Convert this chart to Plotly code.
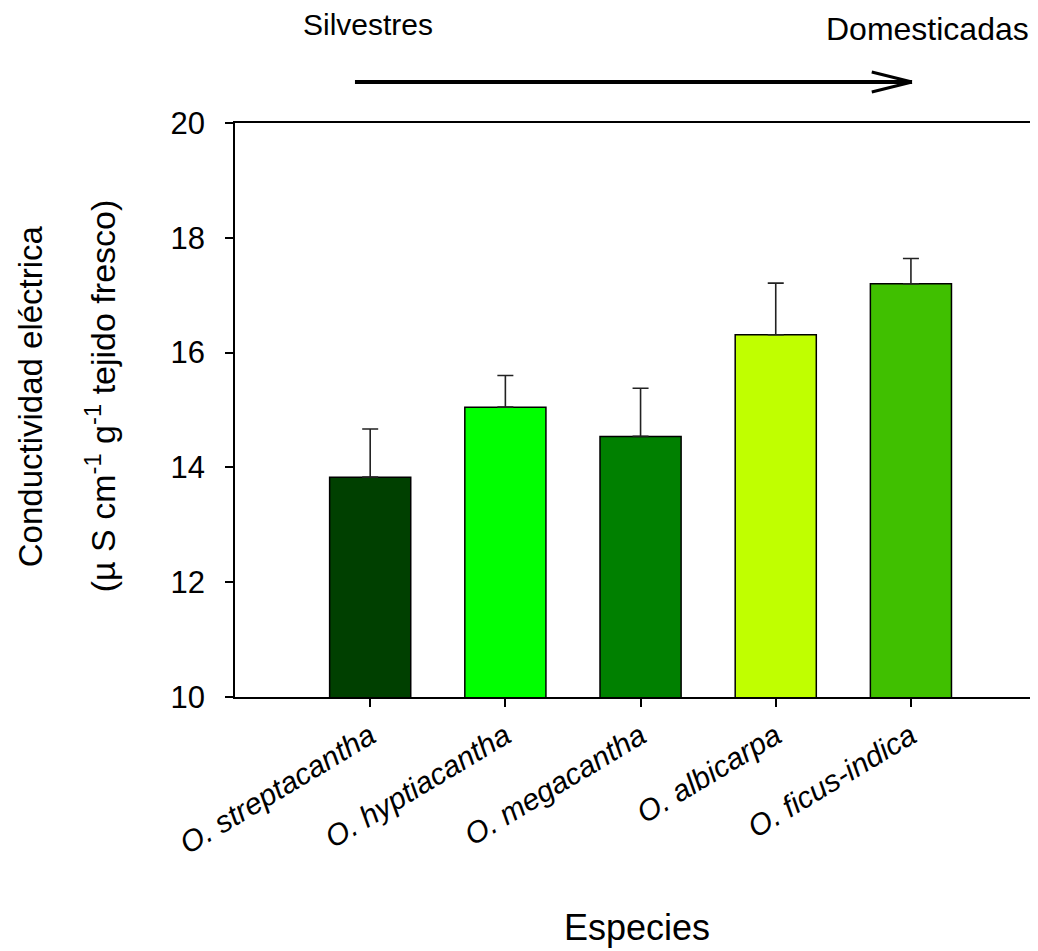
import plotly.graph_objects as go

species = ["O. streptacantha", "O. hyptiacantha", "O. megacantha", "O. albicarpa", "O. ficus-indica"]
values = [13.83, 15.05, 14.54, 16.31, 17.20]
errors = [0.84, 0.55, 0.84, 0.90, 0.44]
colors = ["#004000", "#00FF00", "#008000", "#C0FF00", "#40C000"]
y_ticks = [10, 12, 14, 16, 18, 20]

FONT = "Arial, Liberation Sans, sans-serif"

fig = go.Figure()
fig.add_trace(go.Bar(
    x=list(range(len(species))), y=values,
    marker=dict(color=colors, line=dict(color="black", width=1.5)),
    width=0.6,
    error_y=dict(type="data", symmetric=False, array=errors, arrayminus=[0]*len(errors),
                 color="#222222", thickness=1.6, width=8),
    showlegend=False,
))

fig.update_layout(
    width=1030, height=943,
    margin=dict(l=227, r=0, t=115, b=254),
    paper_bgcolor="white", plot_bgcolor="white",
    font=dict(family=FONT, color="black"),
    xaxis=dict(
        range=[-1, 4.94],
        tickmode="array", tickvals=list(range(len(species))),
        ticktext=["<i>%s</i>" % s for s in species],
        tickangle=-31, tickfont=dict(size=30, family=FONT),
        showline=True, linecolor="black", linewidth=1.5, mirror=True,
        ticks="outside", ticklen=8, tickcolor="black", tickwidth=1.5,
        showgrid=False, zeroline=False,
    ),
    yaxis=dict(
        range=[10, 20], tickvals=y_ticks,
        tickfont=dict(size=31, family=FONT),
        ticklabelstandoff=14,
        showline=True, linecolor="black", linewidth=1.5,
        ticks="outside", ticklen=8, tickcolor="black", tickwidth=1.5,
        showgrid=False, zeroline=False,
    ),
)

common = dict(xref="paper", yref="paper", showarrow=False, xanchor="center", yanchor="middle")
annotations = [
    dict(text="Silvestres", x=0.1656, y=1.172, font=dict(size=30, family=FONT), **common),
    dict(text="Domesticadas", x=0.862, y=1.163, font=dict(size=32, family=FONT), **common),
    dict(text="Especies", x=0.5006, y=-0.402, font=dict(size=36, family=FONT), **common),
    dict(text="Conductividad eléctrica", x=-0.2553, y=0.524, textangle=-90,
         font=dict(size=33, family=FONT), **common),
    dict(text="(µ S cm<sup>-1</sup> g<sup>-1</sup> tejido fresco)", x=-0.168, y=0.524,
         textangle=-90, font=dict(size=34, family=FONT), **common),
]
fig.update_layout(annotations=annotations)

shapes = [
    dict(type="line", xref="paper", yref="paper", x0=0.1494, x1=0.843, y0=1.0714, y1=1.0714,
         line=dict(color="black", width=4)),
    dict(type="line", xref="paper", yref="paper", x0=0.793, x1=0.843, y0=1.0889, y1=1.0714,
         line=dict(color="black", width=3)),
    dict(type="line", xref="paper", yref="paper", x0=0.793, x1=0.843, y0=1.054, y1=1.0714,
         line=dict(color="black", width=3)),
]
fig.update_layout(shapes=shapes)

fig.write_html("out.html")
